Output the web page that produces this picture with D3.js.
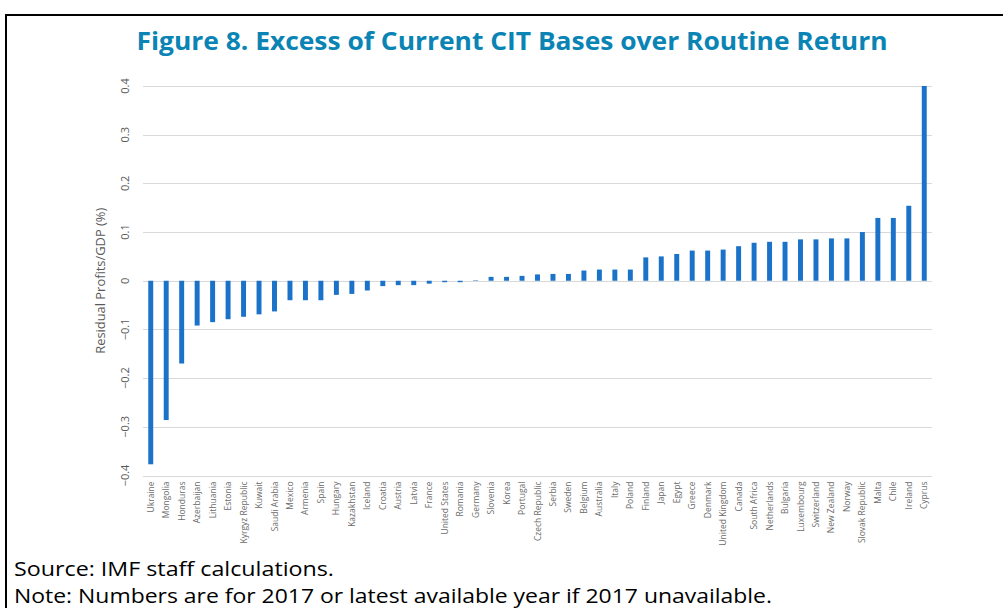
<!DOCTYPE html>
<html>
<head>
<meta charset="utf-8">
<script src="https://cdn.jsdelivr.net/npm/d3@7"></script>
<style>
  body { margin: 0; background: #fff; }
  svg text { font-family: "Open Sans", "Noto Sans", sans-serif; }
</style>
</head>
<body>
<div id="chart"></div>
<script>

// Countries, sorted by value
var countries = ["Ukraine", "Mongolia", "Honduras", "Azerbaijan", "Lithuania", "Estonia",
    "Kyrgyz Republic", "Kuwait", "Saudi Arabia", "Mexico", "Armenia", "Spain", "Hungary",
    "Kazakhstan", "Iceland", "Croatia", "Austria", "Latvia", "France", "United States",
    "Romania", "Germany", "Slovenia", "Korea", "Portugal", "Czech Republic", "Serbia",
    "Sweden", "Belgium", "Australia", "Italy", "Poland", "Finland", "Japan", "Egypt",
    "Greece", "Denmark", "United Kingdom", "Canada", "South Africa", "Netherlands",
    "Bulgaria", "Luxembourg", "Switzerland", "New Zealand", "Norway", "Slovak Republic",
    "Malta", "Chile", "Ireland", "Cyprus"];

// Residual profits / GDP (%)
var residual = [-0.377, -0.286, -0.170, -0.092, -0.085, -0.079,
    -0.074, -0.069, -0.063, -0.040, -0.040, -0.040, -0.029,
    -0.027, -0.020, -0.011, -0.009, -0.009, -0.006, -0.003,
    -0.003, 0.001, 0.008, 0.008, 0.010, 0.013, 0.014,
    0.014, 0.021, 0.023, 0.023, 0.023, 0.048, 0.050, 0.055,
    0.062, 0.062, 0.064, 0.071, 0.078, 0.080,
    0.080, 0.085, 0.085, 0.087, 0.087, 0.100,
    0.129, 0.129, 0.154, 0.400];

var yTicks = [-0.4, -0.3, -0.2, -0.1, 0, 0.1, 0.2, 0.3, 0.4];

var titleText = "Figure 8. Excess of Current CIT Bases over Routine Return";
var sourceText = "Source: IMF staff calculations.";
var noteText = "Note: Numbers are for 2017 or latest available year if 2017 unavailable.";

var data = countries.map(function(c, i) { return {country: c, value: residual[i]}; });

var width = 1003, height = 608;
var margin = {top: 86, right: 71, bottom: 132.5, left: 143};
var plotW = width - margin.left - margin.right;
var plotH = height - margin.top - margin.bottom;

var svg = d3.select("#chart").append("svg")
    .attr("width", width)
    .attr("height", height);

// frame lines (top and left)
svg.append("path")
    .attr("d", "M6,608 V15 H1003")
    .attr("fill", "none")
    .attr("stroke", "#000")
    .attr("stroke-width", 2);

// Title
svg.append("text")
    .attr("x", 512)
    .attr("y", 50)
    .attr("text-anchor", "middle")
    .attr("fill", "#0a84b4")
    .style("font-size", "25px")
    .style("font-weight", "700")
    .attr("textLength", 751)
    .attr("lengthAdjust", "spacingAndGlyphs")
    .text(titleText);

var g = svg.append("g")
    .attr("transform", "translate(" + margin.left + "," + margin.top + ")");

var x = d3.scaleBand()
    .domain(countries)
    .range([0, plotW])
    .paddingInner(0.68)
    .paddingOuter(0.34);

var y = d3.scaleLinear()
    .domain([-0.4, 0.4])
    .range([plotH, 0]);

// Gridlines
g.selectAll(".grid")
    .data(yTicks)
    .enter().append("line")
    .attr("class", "grid")
    .attr("x1", 0)
    .attr("x2", plotW)
    .attr("y1", function(d) { return Math.round(y(d)) + 0.5; })
    .attr("y2", function(d) { return Math.round(y(d)) + 0.5; })
    .attr("stroke", "#d9d9d9")
    .attr("stroke-width", 1);

// Bars
g.selectAll(".bar")
    .data(data)
    .enter().append("rect")
    .attr("class", "bar")
    .attr("x", function(d) { return x(d.country); })
    .attr("width", x.bandwidth())
    .attr("y", function(d) { return y(Math.max(0, d.value)); })
    .attr("height", function(d) { return Math.abs(y(d.value) - y(0)); })
    .attr("fill", "#1a73c9");

// Y tick labels (rotated)
g.selectAll(".ytick")
    .data(yTicks)
    .enter().append("text")
    .attr("class", "ytick")
    .attr("transform", function(d) { return "translate(-14," + y(d) + ") rotate(-90)"; })
    .attr("text-anchor", "middle")
    .attr("fill", "#595959")
    .style("font-size", "11px")
    .text(function(d) { return d === 0 ? "0" : d3.format(".1f")(d); });

// Y axis title
g.append("text")
    .attr("transform", "translate(-38," + y(0) + ") rotate(-90)")
    .attr("text-anchor", "middle")
    .attr("fill", "#595959")
    .style("font-size", "12px")
    .attr("textLength", 146)
    .attr("lengthAdjust", "spacingAndGlyphs")
    .text("Residual Profits/GDP (%)");

// X labels (rotated)
g.selectAll(".xlab")
    .data(countries)
    .enter().append("text")
    .attr("class", "xlab")
    .attr("transform", function(d) {
        return "translate(" + (x(d) + x.bandwidth() / 2 + 3) + "," + (plotH + 6) + ") rotate(-90)";
    })
    .attr("text-anchor", "end")
    .attr("fill", "#6b6b6b")
    .style("font-size", "8.5px")
    .text(function(d) { return d; });

// Source and note
svg.append("text")
    .attr("x", 14)
    .attr("y", 576)
    .attr("fill", "#000")
    .style("font-size", "19.5px")
    .attr("textLength", 320)
    .attr("lengthAdjust", "spacingAndGlyphs")
    .text(sourceText);

svg.append("text")
    .attr("x", 14)
    .attr("y", 603)
    .attr("fill", "#000")
    .style("font-size", "19.5px")
    .attr("textLength", 758)
    .attr("lengthAdjust", "spacingAndGlyphs")
    .text(noteText);

</script>
</body>
</html>
